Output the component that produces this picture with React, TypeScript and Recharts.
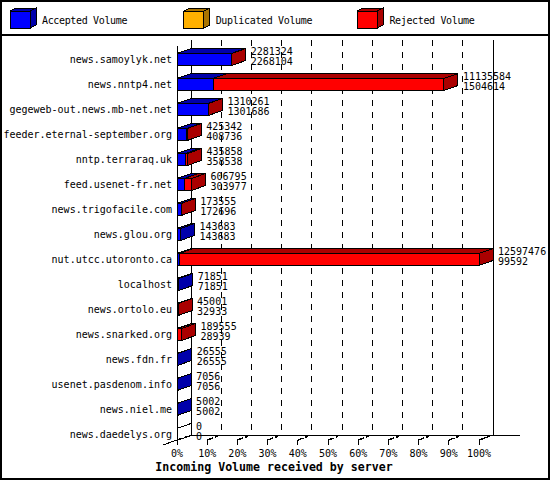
import React from 'react';
import { BarChart, Bar, XAxis, YAxis, CartesianGrid } from 'recharts';

// ---------- data ----------
const servers = [
  'news.samoylyk.net',
  'news.nntp4.net',
  'gegeweb-out.news.mb-net.net',
  'feeder.eternal-september.org',
  'nntp.terraraq.uk',
  'feed.usenet-fr.net',
  'news.trigofacile.com',
  'news.glou.org',
  'nut.utcc.utoronto.ca',
  'localhost',
  'news.ortolo.eu',
  'news.snarked.org',
  'news.fdn.fr',
  'usenet.pasdenom.info',
  'news.niel.me',
  'news.daedelys.org',
];
const totalVolume = [2281324, 11135584, 1310261, 425342, 435858, 606795, 173555, 143683, 12597476, 71851, 45001, 189555, 26555, 7056, 5002, 0];
const acceptedVolume = [2268104, 1504614, 1301686, 408736, 358538, 303977, 172696, 143683, 99592, 71851, 32933, 28939, 26555, 7056, 5002, 0];
const duplicatedVolume = [0, 0, 0, 0, 0, 0, 0, 0, 0, 0, 0, 0, 0, 0, 0, 0];
const rejectedVolume = [13220, 9630970, 8575, 16606, 77320, 302818, 859, 0, 12497884, 0, 12068, 160616, 0, 0, 0, 0];
const percentTicks = [0, 10, 20, 30, 40, 50, 60, 70, 80, 90, 100];

const seriesKeys = ['accepted', 'duplicated', 'rejected'];
const seriesNames = ['Accepted Volume', 'Duplicated Volume', 'Rejected Volume'];
const seriesFront = ['#0000ff', '#ffb000', '#ff0000'];
const seriesDark = ['#0000aa', '#aa7400', '#aa0000'];

const axisTitle = 'Incoming Volume received by server';

// ---------- layout ----------
const W = 550;
const H = 480;
const Y_AXIS_W = 177;
const MARGIN = { top: 46.5, right: 71, bottom: 0, left: 0 };
const X_AXIS_H = 33.5;
const PLOT_LEFT = MARGIN.left + Y_AXIS_W;
const PLOT_RIGHT = W - MARGIN.right;
const DX = 14;
const DY = -5;
const BACK_TOP = 40;
const FRONT_TOP = 46;
const FRONT_FLOOR = 440;
const BACK_FLOOR = FRONT_FLOOR + DY;
const FONT = '"DejaVu Sans Mono", monospace';

const MAX = Math.max(...totalVolume);
const tickValues = percentTicks.map((p) => (p / 100) * MAX);

const rows = servers.map((name, i) => ({
  name,
  total: totalVolume[i],
  accepted: acceptedVolume[i],
  duplicated: duplicatedVolume[i],
  rejected: rejectedVolume[i],
}));

function makeBoxShape(seriesIndex: number) {
  const key = seriesKeys[seriesIndex];
  const isLast = seriesIndex === seriesKeys.length - 1;
  return (props: any) => {
    const { x, y, width, height, payload } = props;
    const v = payload[key];
    const w = Math.max(0, width || 0);
    const h = height || 0;
    const parts: React.ReactNode[] = [];
    const drawEmpty = seriesIndex === 0 && payload.total === 0;
    if (v > 0 || drawEmpty) {
      const f = v > 0 ? seriesFront[seriesIndex] : '#ffffff';
      const d = v > 0 ? seriesDark[seriesIndex] : '#ffffff';
      parts.push(
        <polygon
          key="top"
          points={`${x},${y} ${x + w},${y} ${x + w + DX},${y + DY} ${x + DX},${y + DY}`}
          fill={d}
          stroke="#000"
          strokeWidth={1}
        />,
        <polygon
          key="right"
          points={`${x + w},${y} ${x + w + DX},${y + DY} ${x + w + DX},${y + h + DY} ${x + w},${y + h}`}
          fill={d}
          stroke="#000"
          strokeWidth={1}
        />,
        <rect key="front" x={x} y={y} width={w} height={h} fill={f} stroke="#000" strokeWidth={1} />
      );
    }
    if (isLast) {
      const lx = x + w + DX + 5;
      const cy = y + h / 2;
      parts.push(
        <text key="l1" x={lx} y={cy - 5} fontFamily={FONT} fontSize={10} fill="#000">
          {payload.total}
        </text>,
        <text key="l2" x={lx} y={cy + 5.3} fontFamily={FONT} fontSize={10} fill="#000">
          {payload.accepted}
        </text>
      );
    }
    return <g shapeRendering="crispEdges">{parts}</g>;
  };
}

const renderVertical = (p: any) => {
  const x1 = p.x1;
  const xb = x1 + DX;
  const k = `v-${p.index}-${x1}`;
  if (Math.abs(x1 - PLOT_LEFT) < 0.5) {
    return (
      <g key={k} stroke="#000" strokeWidth={1} shapeRendering="crispEdges">
        <line x1={xb} y1={BACK_TOP} x2={xb} y2={BACK_FLOOR} />
        <line x1={x1} y1={FRONT_TOP} x2={x1} y2={FRONT_FLOOR} />
        <line x1={x1 - DX} y1={FRONT_FLOOR - DY} x2={xb} y2={BACK_FLOOR} />
        <line x1={xb} y1={BACK_FLOOR} x2={PLOT_RIGHT + DX + 27} y2={BACK_FLOOR} />
      </g>
    );
  }
  if (Math.abs(x1 - PLOT_RIGHT) < 0.5) {
    return (
      <g key={k} stroke="#000" strokeWidth={1} shapeRendering="crispEdges">
        <line x1={xb} y1={BACK_TOP} x2={xb} y2={BACK_FLOOR} />
        <line x1={x1} y1={FRONT_FLOOR} x2={xb} y2={BACK_FLOOR} />
      </g>
    );
  }
  return (
    <line
      key={k}
      x1={xb}
      y1={BACK_TOP}
      x2={xb}
      y2={BACK_FLOOR}
      stroke="#000"
      strokeWidth={1}
      strokeDasharray="6 6"
      shapeRendering="crispEdges"
    />
  );
};

const XTick = (p: any) => {
  const { x, payload } = p;
  const pct = Math.round((payload.value / MAX) * 100);
  return (
    <g shapeRendering="crispEdges">
      <line x1={x} y1={FRONT_FLOOR} x2={x} y2={FRONT_FLOOR + 5} stroke="#000" />
      <line
        x1={x}
        y1={FRONT_FLOOR}
        x2={x + DX}
        y2={FRONT_FLOOR + DY}
        stroke="#000"
        strokeWidth={1.5}
        strokeDasharray="6 2 3 20"
      />
      <text x={x} y={FRONT_FLOOR + 16.5} textAnchor="middle" fontFamily={FONT} fontSize={10} fill="#000">
        {pct + '%'}
      </text>
    </g>
  );
};

const YTick = (p: any) => {
  const { y, payload } = p;
  return (
    <text x={PLOT_LEFT - 5} y={y + 3.5} textAnchor="end" fontFamily={FONT} fontSize={10} fill="#000">
      {payload.value}
    </text>
  );
};

const LegendCube = ({ x, i }: { x: number; i: number }) => (
  <g shapeRendering="crispEdges">
    <polygon points={`${x},11 ${x + 20},11 ${x + 26},8 ${x + 6},8`} fill={seriesDark[i]} stroke="#000" />
    <polygon points={`${x + 20},11 ${x + 26},8 ${x + 26},25 ${x + 20},28`} fill={seriesDark[i]} stroke="#000" />
    <rect x={x} y={11} width={20} height={17} fill={seriesFront[i]} stroke="#000" />
  </g>
);

export default function App() {
  return (
    <div style={{ position: 'absolute', left: 0, top: 0, width: W, height: H, background: '#fff' }}>
      <BarChart width={W} height={H} data={rows} layout="vertical" margin={MARGIN} barSize={12}>
        <CartesianGrid horizontal={false} vertical={renderVertical} />
        <XAxis
          type="number"
          domain={[0, MAX]}
          ticks={tickValues}
          interval={0}
          height={X_AXIS_H}
          axisLine={false}
          tickLine={false}
          tick={<XTick />}
        />
        <YAxis
          type="category"
          dataKey="name"
          width={Y_AXIS_W}
          interval={0}
          axisLine={false}
          tickLine={false}
          tick={<YTick />}
        />
        {seriesKeys.map((k, i) => (
          <Bar
            key={k}
            dataKey={k}
            name={seriesNames[i]}
            stackId="vol"
            fill={seriesFront[i]}
            isAnimationActive={false}
            shape={makeBoxShape(i)}
          />
        ))}
      </BarChart>
      <svg
        width={W}
        height={H}
        style={{ position: 'absolute', left: 0, top: 0, pointerEvents: 'none' }}
      >
        <rect x={1} y={1} width={W - 2} height={H - 2} fill="none" stroke="#000" strokeWidth={2} />
        <line x1={0} y1={35} x2={W} y2={35} stroke="#000" strokeWidth={2} />
        {seriesNames.map((n, i) => {
          const lx = 10 + i * 173.7;
          return (
            <g key={n}>
              <LegendCube x={lx} i={i} />
              <text x={lx + 32} y={24} fontFamily={FONT} fontSize={10} letterSpacing={-0.35} fill="#000">
                {n}
              </text>
            </g>
          );
        })}
        <text
          x={274}
          y={471}
          textAnchor="middle"
          fontFamily={FONT}
          fontWeight="bold"
          fontSize={11.6}
          fill="#000"
        >
          {axisTitle}
        </text>
      </svg>
    </div>
  );
}
